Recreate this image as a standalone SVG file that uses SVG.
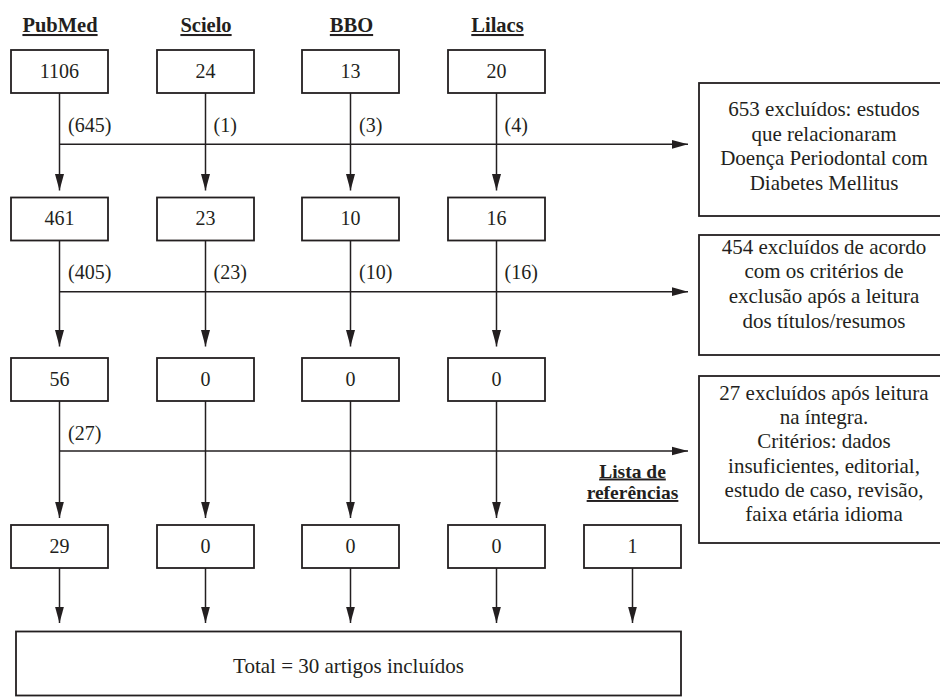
<svg xmlns="http://www.w3.org/2000/svg" width="940" height="698" viewBox="0 0 940 698">
<defs>
<style>
.bx{fill:#fff;stroke:#231f20;stroke-width:1.8}
.ln{fill:none;stroke:#231f20;stroke-width:1.5}
.num{font-size:20px;text-anchor:middle}
.lab{font-size:20px}
.hd{font-size:20.5px;font-weight:bold;text-anchor:middle;text-decoration:underline}
.tx{font-size:21px;text-anchor:middle}
</style>
<marker id="ah" markerUnits="userSpaceOnUse" markerWidth="17" markerHeight="10" viewBox="0 0 17 10" refX="16.5" refY="5" orient="auto">
<path d="M0,0.5 L16.5,5 L0,9.5 Z" fill="#231f20"/>
</marker>
</defs>
<rect width="940" height="698" fill="#fff"/>

<g font-family="'Liberation Serif', 'DejaVu Serif', serif" fill="#231f20">

<g id="headers">
<text class="hd" x="60" y="32">PubMed</text>
<text class="hd" x="206" y="32">Scielo</text>
<text class="hd" x="351.5" y="32">BBO</text>
<text class="hd" x="497.5" y="32">Lilacs</text>
<text class="hd" x="632.5" y="477.5" style="font-size:19.5px">Lista de</text>
<text class="hd" x="632.5" y="499" style="font-size:19.5px">referências</text>
</g>

<g id="connectors">
<g class="ln" marker-end="url(#ah)">
<line x1="59.5" y1="93" x2="59.5" y2="190.5"/>
<line x1="205.5" y1="93" x2="205.5" y2="190.5"/>
<line x1="350.5" y1="93" x2="350.5" y2="190.5"/>
<line x1="496.5" y1="93" x2="496.5" y2="190.5"/>
<line x1="59.5" y1="144.3" x2="688" y2="144.3"/>
<line x1="59.5" y1="240.5" x2="59.5" y2="346.5"/>
<line x1="205.5" y1="240.5" x2="205.5" y2="346.5"/>
<line x1="350.5" y1="240.5" x2="350.5" y2="346.5"/>
<line x1="496.5" y1="240.5" x2="496.5" y2="346.5"/>
<line x1="59.5" y1="291.7" x2="688" y2="291.7"/>
<line x1="59.5" y1="401" x2="59.5" y2="518"/>
<line x1="205.5" y1="401" x2="205.5" y2="518"/>
<line x1="350.5" y1="401" x2="350.5" y2="518"/>
<line x1="496.5" y1="401" x2="496.5" y2="518"/>
<line x1="59.5" y1="451" x2="688" y2="451"/>
<line x1="59.5" y1="568" x2="59.5" y2="623"/>
<line x1="205.5" y1="568" x2="205.5" y2="623"/>
<line x1="350.5" y1="568" x2="350.5" y2="623"/>
<line x1="496.5" y1="568" x2="496.5" y2="623"/>
<line x1="632.5" y1="568" x2="632.5" y2="623"/>
</g>
<g class="lab">
<text x="68" y="132">(645)</text>
<text x="213.5" y="132">(1)</text>
<text x="359" y="132">(3)</text>
<text x="504.5" y="132">(4)</text>
<text x="68" y="278.5">(405)</text>
<text x="213.5" y="278.5">(23)</text>
<text x="359" y="278.5">(10)</text>
<text x="504.5" y="278.5">(16)</text>
<text x="68" y="440">(27)</text>
</g>
</g>

<g id="pubmed-1"><rect class="bx" x="11" y="50" width="97" height="43"/><text class="num" x="59.5" y="77.5">1106</text></g>
<g id="scielo-1"><rect class="bx" x="157" y="50" width="97" height="43"/><text class="num" x="205.5" y="77.5">24</text></g>
<g id="bbo-1"><rect class="bx" x="302" y="50" width="97" height="43"/><text class="num" x="350.5" y="77.5">13</text></g>
<g id="lilacs-1"><rect class="bx" x="448" y="50" width="97" height="43"/><text class="num" x="496.5" y="77.5">20</text></g>

<g id="pubmed-2"><rect class="bx" x="11" y="197.5" width="97" height="43"/><text class="num" x="59.5" y="225">461</text></g>
<g id="scielo-2"><rect class="bx" x="157" y="197.5" width="97" height="43"/><text class="num" x="205.5" y="225">23</text></g>
<g id="bbo-2"><rect class="bx" x="302" y="197.5" width="97" height="43"/><text class="num" x="350.5" y="225">10</text></g>
<g id="lilacs-2"><rect class="bx" x="448" y="197.5" width="97" height="43"/><text class="num" x="496.5" y="225">16</text></g>

<g id="pubmed-3"><rect class="bx" x="11" y="358" width="97" height="43"/><text class="num" x="59.5" y="385.5">56</text></g>
<g id="scielo-3"><rect class="bx" x="157" y="358" width="97" height="43"/><text class="num" x="205.5" y="385.5">0</text></g>
<g id="bbo-3"><rect class="bx" x="302" y="358" width="97" height="43"/><text class="num" x="350.5" y="385.5">0</text></g>
<g id="lilacs-3"><rect class="bx" x="448" y="358" width="97" height="43"/><text class="num" x="496.5" y="385.5">0</text></g>

<g id="pubmed-4"><rect class="bx" x="11" y="525" width="97" height="43"/><text class="num" x="59.5" y="552.5">29</text></g>
<g id="scielo-4"><rect class="bx" x="157" y="525" width="97" height="43"/><text class="num" x="205.5" y="552.5">0</text></g>
<g id="bbo-4"><rect class="bx" x="302" y="525" width="97" height="43"/><text class="num" x="350.5" y="552.5">0</text></g>
<g id="lilacs-4"><rect class="bx" x="448" y="525" width="97" height="43"/><text class="num" x="496.5" y="552.5">0</text></g>
<g id="lista-4"><rect class="bx" x="584" y="525" width="97" height="43"/><text class="num" x="632.5" y="552.5">1</text></g>

<g id="excl-1"><rect class="bx" x="699" y="83" width="252" height="133"/>
<text class="tx" x="824"><tspan x="824" y="116">653 excluídos: estudos</tspan><tspan x="824" y="140.7">que relacionaram</tspan><tspan x="824" y="165.4">Doença Periodontal com</tspan><tspan x="824" y="190">Diabetes Mellitus</tspan></text></g>

<g id="excl-2"><rect class="bx" x="699" y="235" width="252" height="120"/>
<text class="tx" x="824"><tspan x="824" y="253.5">454 excluídos de acordo</tspan><tspan x="824" y="278.2">com os critérios de</tspan><tspan x="824" y="302.9">exclusão após a leitura</tspan><tspan x="824" y="327.6">dos títulos/resumos</tspan></text></g>

<g id="excl-3"><rect class="bx" x="699" y="376" width="252" height="167"/>
<text class="tx" x="824"><tspan x="824" y="400">27 excluídos após leitura</tspan><tspan x="824" y="424.2">na íntegra.</tspan><tspan x="824" y="448.4">Critérios: dados</tspan><tspan x="824" y="472.6">insuficientes, editorial,</tspan><tspan x="824" y="496.8">estudo de caso, revisão,</tspan><tspan x="824" y="521">faixa etária idioma</tspan></text></g>

<g id="total"><rect class="bx" x="16" y="631.5" width="665" height="64"/>
<text class="tx" x="348.5" y="672.5">Total = 30 artigos incluídos</text></g>

</g>
</svg>
